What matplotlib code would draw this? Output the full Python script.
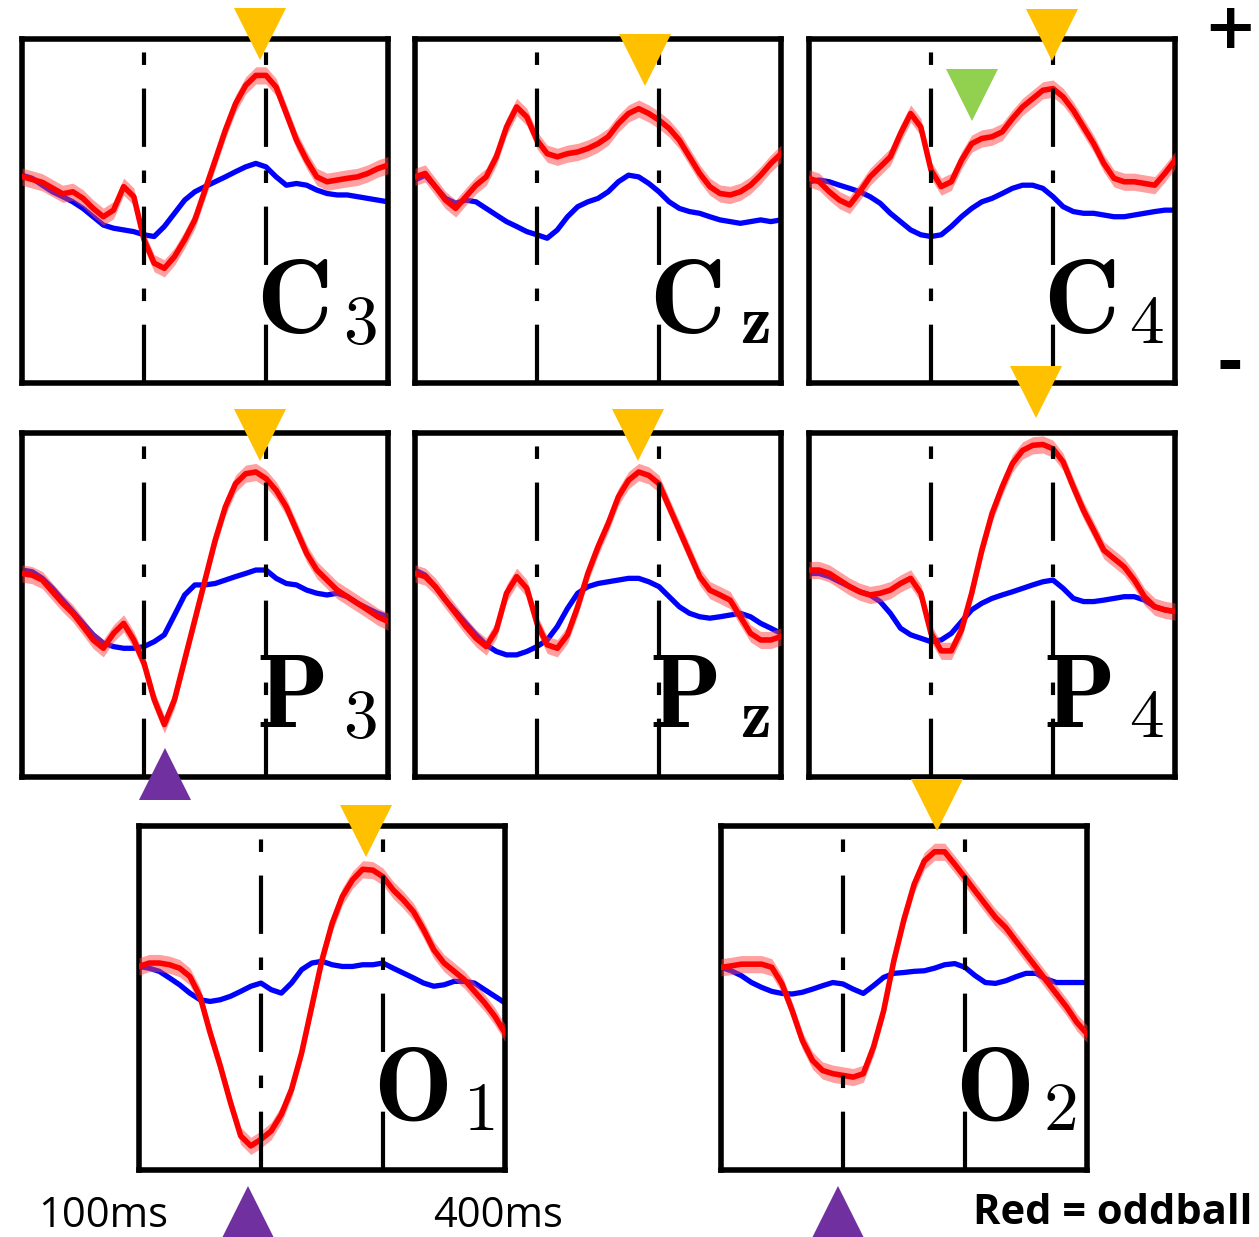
import numpy as np
import matplotlib.pyplot as plt

# time base of the averages (ms), one sample every 25 ms
t_ms = np.arange(-200, 701, 25)
marks_ms = [100, 400]

# red = oddball average, blue = standard average
c3_odd = [1.2, 1.1, 1.0, 0.8, 0.6, 0.67, 0.44, 0.09, -0.2, 0.03, 0.85, 0.5, -1.0, -1.82, -2.0, -1.59,
          -1.0, -0.31, 0.73, 1.77, 2.82, 3.74, 4.38, 4.73, 4.73, 4.32, 3.4, 2.47, 1.77, 1.19, 1.02,
          1.08, 1.14, 1.19, 1.31, 1.48, 1.6]
c3_std = [1.25, 1.14, 0.9, 0.67, 0.5, 0.32, 0.09, -0.2, -0.49, -0.6, -0.66, -0.72, -0.83, -0.89, -0.54,
          -0.08, 0.38, 0.67, 0.85, 1.02, 1.19, 1.37, 1.54, 1.66, 1.54, 1.19, 0.9, 0.96, 0.9, 0.73, 0.61,
          0.56, 0.56, 0.5, 0.44, 0.38, 0.32]
cz_odd = [1.19, 1.31, 0.85, 0.38, 0.09, 0.5, 0.9, 1.19, 1.89, 2.93, 3.63, 3.28, 2.47, 2.0, 1.89, 2.0,
          2.06, 2.18, 2.35, 2.59, 3.05, 3.4, 3.57, 3.4, 3.17, 2.88, 2.47, 1.89, 1.31, 0.85, 0.61, 0.56,
          0.67, 0.9, 1.25, 1.66, 2.0]
cz_std = [1.08, 1.25, 0.85, 0.44, 0.27, 0.38, 0.32, 0.09, -0.14, -0.37, -0.54, -0.72, -0.83, -0.95,
          -0.66, -0.2, 0.15, 0.32, 0.44, 0.67, 1.02, 1.25, 1.19, 0.96, 0.67, 0.32, 0.09, -0.02, -0.08,
          -0.2, -0.31, -0.37, -0.43, -0.37, -0.31, -0.37, -0.31]
c4_odd = [1.14, 1.02, 0.67, 0.38, 0.21, 0.67, 1.19, 1.54, 1.89, 2.7, 3.4, 2.93, 1.43, 0.85, 1.02, 1.77,
          2.35, 2.53, 2.59, 2.76, 3.22, 3.63, 3.92, 4.21, 4.27, 3.98, 3.51, 2.93, 2.35, 1.66, 1.14, 1.02,
          1.02, 0.96, 0.9, 1.31, 1.77]
c4_std = [1.02, 1.08, 1.02, 0.9, 0.79, 0.67, 0.5, 0.27, -0.08, -0.37, -0.66, -0.83, -0.89, -0.83, -0.54,
          -0.2, 0.09, 0.32, 0.44, 0.61, 0.79, 0.9, 0.9, 0.79, 0.5, 0.15, -0.02, -0.08, -0.08, -0.14, -0.2,
          -0.2, -0.14, -0.08, -0.02, 0.03, 0.03]
p3_odd = [1.1, 1.04, 0.87, 0.46, 0.06, -0.29, -0.75, -1.22, -1.51, -0.99, -0.64, -1.22, -2.03, -3.3,
          -4.17, -3.3, -1.91, -0.52, 0.87, 2.26, 3.42, 4.23, 4.58, 4.64, 4.41, 4.0, 3.42, 2.61, 1.8, 1.22,
          0.87, 0.52, 0.29, 0.06, -0.17, -0.41, -0.58]
p3_std = [1.22, 1.16, 0.93, 0.58, 0.17, -0.23, -0.64, -1.04, -1.33, -1.45, -1.51, -1.51, -1.45, -1.28,
          -1.04, -0.35, 0.35, 0.7, 0.7, 0.75, 0.87, 0.99, 1.1, 1.22, 1.22, 0.93, 0.75, 0.7, 0.52, 0.41,
          0.35, 0.41, 0.29, 0.06, -0.12, -0.29, -0.41]
pz_odd = [1.1, 0.99, 0.64, 0.17, -0.29, -0.75, -1.16, -1.45, -0.87, 0.41, 0.99, 0.58, -0.64, -1.39,
          -1.51, -1.04, -0.06, 1.1, 2.03, 2.84, 3.77, 4.35, 4.64, 4.52, 4.23, 3.42, 2.61, 1.8, 0.99, 0.52,
          0.35, 0.17, -0.41, -0.99, -1.22, -1.22, -1.1]
pz_std = [1.22, 1.04, 0.64, 0.17, -0.23, -0.64, -1.04, -1.39, -1.62, -1.74, -1.74, -1.62, -1.45, -1.22,
          -0.75, -0.12, 0.41, 0.64, 0.75, 0.81, 0.87, 0.93, 0.93, 0.81, 0.64, 0.29, -0.06, -0.29, -0.41,
          -0.46, -0.41, -0.35, -0.29, -0.41, -0.64, -0.81, -0.99]
p4_odd = [1.22, 1.22, 1.1, 0.87, 0.64, 0.46, 0.35, 0.41, 0.52, 0.75, 0.93, 0.41, -0.99, -1.6, -1.6,
          -0.87, 0.41, 1.91, 3.19, 4.12, 4.93, 5.39, 5.57, 5.6, 5.45, 4.99, 4.12, 3.3, 2.61, 1.91, 1.62,
          1.33, 0.87, 0.29, -0.06, -0.17, -0.23]
p4_std = [1.1, 1.1, 0.99, 0.81, 0.64, 0.46, 0.35, 0.12, -0.29, -0.81, -1.04, -1.16, -1.28, -1.22, -0.99,
          -0.58, -0.17, 0.06, 0.23, 0.35, 0.46, 0.58, 0.7, 0.81, 0.87, 0.58, 0.23, 0.12, 0.12, 0.17, 0.23,
          0.29, 0.29, 0.17, -0.06, -0.17, -0.23]
o1_odd = [1.1, 1.22, 1.22, 1.16, 1.04, 0.75, 0.06, -1.22, -2.38, -3.65, -4.81, -5.16, -4.93, -4.64,
          -4.06, -3.19, -1.91, -0.29, 1.33, 2.61, 3.54, 4.12, 4.49, 4.46, 4.23, 3.77, 3.42, 3.01, 2.38,
          1.68, 1.22, 0.93, 0.64, 0.23, -0.17, -0.64, -1.22]
o1_std = [1.1, 1.04, 0.93, 0.7, 0.46, 0.17, -0.06, -0.12, -0.06, 0.06, 0.23, 0.41, 0.52, 0.29, 0.17,
          0.52, 0.99, 1.22, 1.28, 1.16, 1.1, 1.1, 1.16, 1.16, 1.22, 1.04, 0.87, 0.7, 0.52, 0.41, 0.46,
          0.58, 0.58, 0.52, 0.29, 0.06, -0.17]
o2_odd = [1.07, 1.12, 1.18, 1.18, 1.18, 1.07, 0.49, -0.44, -1.48, -2.18, -2.53, -2.64, -2.7, -2.76,
          -2.64, -1.71, -0.44, 1.3, 2.75, 3.97, 4.78, 5.1, 5.1, 4.66, 4.2, 3.73, 3.27, 2.81, 2.46, 1.99,
          1.53, 1.07, 0.6, 0.14, -0.32, -0.85, -1.25]
o2_std = [1.07, 0.95, 0.78, 0.54, 0.37, 0.23, 0.16, 0.14, 0.2, 0.31, 0.43, 0.54, 0.49, 0.31, 0.16,
          0.43, 0.72, 0.86, 0.89, 0.93, 0.95, 1.04, 1.16, 1.2, 1.07, 0.78, 0.54, 0.51, 0.6, 0.74, 0.86,
          0.86, 0.66, 0.54, 0.54, 0.54, 0.54]

# component markers: (panel, time ms, level, direction, colour)
comp_marks = [
    ("C3", 385, 6.17, "v", "#ffc000"),
    ("Cz", 366, 5.27, "v", "#ffc000"),
    ("C4", 398, 6.14, "v", "#ffc000"),
    ("C4", 201, 4.05, "v", "#92d050"),
    ("P3", 385, 5.93, "v", "#ffc000"),
    ("P3", 152, -5.89, "^", "#7030a0"),
    ("Pz", 348, 5.93, "v", "#ffc000"),
    ("P4", 358, 7.43, "v", "#ffc000"),
    ("O1", 358, 5.83, "v", "#ffc000"),
    ("O1", 68, -7.46, "^", "#7030a0"),
    ("O2", 331, 6.73, "v", "#ffc000"),
    ("O2", 88, -7.46, "^", "#7030a0"),
]

# panel layout in pixels: name, data, left, top, electrode letter, subscript
W, H = 1259, 1237
PW, PH = 366, 344
panels = [
    ("C3", c3_odd, c3_std, 22, 39, "C", "3"),
    ("Cz", cz_odd, cz_std, 415, 39, "C", r"\mathbf{z}"),
    ("C4", c4_odd, c4_std, 809, 39, "C", "4"),
    ("P3", p3_odd, p3_std, 22, 433, "P", "3"),
    ("Pz", pz_odd, pz_std, 415, 433, "P", r"\mathbf{z}"),
    ("P4", p4_odd, p4_std, 809, 433, "P", "4"),
    ("O1", o1_odd, o1_std, 139, 826, "O", "1"),
    ("O2", o2_odd, o2_std, 721, 826, "O", "2"),
]

plt.rcParams["mathtext.fontset"] = "cm"
plt.rcParams["lines.scale_dashes"] = False

fig = plt.figure(figsize=(W / 100, H / 100), dpi=100)
fig.patch.set_facecolor("white")

axes = {}
for name, odd, std, left, top, letter, sub in panels:
    ax = fig.add_axes([left / W, 1 - (top + PH) / H, PW / W, PH / H])
    odd = np.array(odd)
    std = np.array(std)
    ax.plot(t_ms, std, color="#0000ff", lw=3.8, zorder=2)
    ax.fill_between(t_ms, odd - 0.3, odd + 0.3, color="#ff4040", alpha=0.5, lw=0, zorder=3)
    ax.plot(t_ms, odd, color="#ff0000", lw=4.0, zorder=4)
    for m in marks_ms:
        ax.axvline(m, color="black", lw=3.0, zorder=5,
                   linestyle=(0, (42, 17, 9, 17)))
    ax.text(0.64, 0.145, r"$\mathbf{%s}$" % letter, transform=ax.transAxes, fontsize=76,
            ha="left", va="baseline", zorder=6)
    ax.text(0.97, 0.115, r"$%s$" % sub, transform=ax.transAxes, fontsize=50,
            ha="right", va="baseline", zorder=6)
    ax.set_xlim(-200, 700)
    ax.set_ylim(-6, 6)
    ax.set_xticks([])
    ax.set_yticks([])
    for sp in ax.spines.values():
        sp.set_linewidth(4)
        sp.set_color("black")
    axes[name] = ax

for name, t, lev, mk, col in comp_marks:
    axes[name].plot([t], [lev], marker=mk, ms=37, color=col, mew=0,
                    clip_on=False, zorder=10)

# polarity and time notes
fig.text(1230 / W, 1 - 30 / H, "+", fontsize=46, fontweight="heavy",
         ha="center", va="center")
fig.text(1230 / W, 1 - 365 / H, "-", fontsize=46, fontweight="heavy",
         ha="center", va="center")
note_font = ["Liberation Sans Narrow", "Open Sans", "DejaVu Sans"]
fig.text(103 / W, 1 - 1216 / H, "100ms", fontsize=30, family=note_font,
         ha="center", va="center")
fig.text(498 / W, 1 - 1216 / H, "400ms", fontsize=30, family=note_font,
         ha="center", va="center")
fig.text(1252 / W, 1 - 1214 / H, "Red = oddball", fontsize=30, fontweight="bold",
         family=note_font, ha="right", va="center")

fig.savefig("out.png", dpi=100, facecolor="white")
